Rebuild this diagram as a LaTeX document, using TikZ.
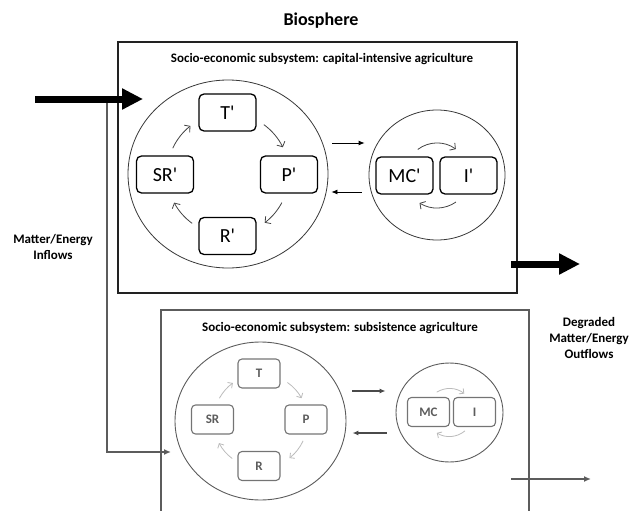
\documentclass[tikz,border=0pt]{standalone}
\usepackage{fontspec}
\setmainfont{Carlito}
\newfontfamily\plainfont{Carlito}
\usetikzlibrary{arrows.meta,shapes.geometric}

\definecolor{darkline}{HTML}{222222}
\definecolor{subgray}{HTML}{5C5C5C}
\definecolor{lightarr}{HTML}{BBBBBB}

\tikzset{
  sysframe/.style={draw=darkline, line width=1.8pt},
  subframe/.style={draw=subgray, line width=1.3pt},
  ring/.style={draw=darkline!90, ellipse, line width=0.8pt, inner sep=0pt},
  subring/.style={draw=subgray, ellipse, line width=0.9pt, inner sep=0pt},
  stagebox/.style={draw, rounded corners=5pt, line width=1.3pt, minimum width=57pt,
    minimum height=37pt, inner sep=0pt, font=\plainfont\fontsize{20}{23}\selectfont},
  substage/.style={draw=subgray!85, rounded corners=4pt, line width=1.1pt, minimum width=42pt,
    minimum height=29pt, inner sep=0pt, text=subgray, font=\bfseries\fontsize{13}{15}\selectfont},
  cycarrow/.style={draw=darkline!85, line width=0.8pt, -{Straight Barb[length=4pt,width=9pt]}},
  subcyc/.style={draw=lightarr, line width=0.8pt, -{Straight Barb[length=3.5pt,width=7pt]}},
  linkarrow/.style={draw=black, line width=0.8pt, -{Latex[length=6pt,width=5pt]}},
  sublink/.style={draw=subgray!80!black, line width=1.3pt, -{Latex[length=6pt,width=5pt]}},
  bigflow/.style={draw=black, line width=7pt, -{Triangle[length=21pt,width=20pt]}},
  thinflow/.style={draw=subgray, line width=1.5pt, -{Latex[length=7pt,width=6pt]}},
  flowlabel/.style={font=\bfseries\fontsize{13}{16}\selectfont, align=center},
  titletext/.style={font=\bfseries\fontsize{13}{15}\selectfont}
}

\begin{document}
\begin{tikzpicture}[x=1pt, y=-1pt]
  \clip (0,0) rectangle (640,511);
  \useasboundingbox (0,0) rectangle (640,511);

  \node[font=\bfseries\fontsize{18}{21}\selectfont] (bio) at (321,21) {Biosphere};

  % capital-intensive subsystem
  \draw[sysframe] (118,42) rectangle (517,293);
  \node[titletext] (captitle) at (322,59) {Socio-economic subsystem: capital-intensive agriculture};

  \node[ring, minimum width=200pt, minimum height=188pt] (cyc1) at (228,174) {};
  \node[ring, minimum width=136pt, minimum height=130pt] (cyc2) at (437,175) {};

  \node[stagebox] (Tp) at (227.5,112.5) {T'};
  \node[stagebox] (SRp) at (165,174.5) {SR'};
  \node[stagebox] (Pp) at (289,174.5) {P'};
  \node[stagebox] (Rp) at (227.5,236) {R'};
  \node[stagebox] (MCp) at (404.5,175.5) {MC'};
  \node[stagebox] (Ip) at (468.5,175.5) {I'};

  \draw[cycarrow] (cyc1.center) ++(54:61pt) arc[start angle=54, end angle=26, radius=61pt];
  \draw[cycarrow] (cyc1.center) ++(-28:61pt) arc[start angle=-28, end angle=-53, radius=61pt];
  \draw[cycarrow] (cyc1.center) ++(-126:61pt) arc[start angle=-126, end angle=-152, radius=61pt];
  \draw[cycarrow] (cyc1.center) ++(155:61pt) arc[start angle=155, end angle=128, radius=61pt];
  \draw[cycarrow] (cyc2.center) ++(127:32pt) arc[start angle=127, end angle=54, radius=32pt];
  \draw[cycarrow] (cyc2.center) ++(-55:33pt) arc[start angle=-55, end angle=-122, radius=33pt];

  \draw[linkarrow] ([shift={(4,-31)}]cyc1.east) -- ([shift={(-4,-32)}]cyc2.west);
  \draw[linkarrow] ([shift={(-7,17)}]cyc2.west) -- ([shift={(3,18)}]cyc1.east);

  % subsistence subsystem
  \draw[subframe] (161,310) rectangle (529,530);
  \node[titletext] (subtitle) at (340,328) {Socio-economic subsystem: subsistence agriculture};

  \node[subring, minimum width=171pt, minimum height=158pt] (cyc3) at (260.5,421) {};
  \node[subring, minimum width=107pt, minimum height=99pt] (cyc4) at (449.5,412.5) {};

  \node[substage] (T) at (259,373.5) {T};
  \node[substage] (SR) at (212.5,419.5) {SR};
  \node[substage] (P) at (306,419.5) {P};
  \node[substage] (R) at (259,466) {R};
  \node[substage] (MC) at (428.5,412) {MC};
  \node[substage] (I) at (474.5,412) {I};

  \draw[subcyc] (cyc3.center) ++(55:47pt) arc[start angle=55, end angle=29, radius=47pt];
  \draw[subcyc] (cyc3.center) ++(-25:47pt) arc[start angle=-25, end angle=-52, radius=47pt];
  \draw[subcyc] (cyc3.center) ++(-127:47pt) arc[start angle=-127, end angle=-152, radius=47pt];
  \draw[subcyc] (cyc3.center) ++(151:47pt) arc[start angle=151, end angle=126, radius=47pt];
  \draw[subcyc] (cyc4.center) ++(122:24pt) arc[start angle=122, end angle=52, radius=24pt];
  \draw[subcyc] (cyc4.center) ++(-50:24pt) arc[start angle=-50, end angle=-122, radius=24pt];

  \draw[sublink] ([shift={(6,-30)}]cyc3.east) -- ([shift={(-10,-21.5)}]cyc4.west);
  \draw[sublink] ([shift={(-9,20.5)}]cyc4.west) -- ([shift={(6,12)}]cyc3.east);

  % flows
  \coordinate (inStart) at (35,99);
  \coordinate (inEnd) at (143,99);
  \coordinate (split) at (107,103);
  \coordinate (feed) at (171,452);
  \draw[thinflow] (split) |- (feed);
  \draw[bigflow] (inStart) -- (inEnd);

  \coordinate (outStart) at (511,264);
  \coordinate (outEnd) at (580,264);
  \draw[bigflow] (outStart) -- (outEnd);
  \coordinate (subOutStart) at (511,479);
  \coordinate (subOutEnd) at (591,479);
  \draw[thinflow, line width=2.5pt] (subOutStart) -- (subOutEnd);

  \node[flowlabel] (inlabel) at (53,246.5) {Matter/Energy\\Inflows};
  \node[flowlabel] (outlabel) at (589,338) {Degraded\\Matter/Energy\\Outflows};
\end{tikzpicture}
\end{document}
